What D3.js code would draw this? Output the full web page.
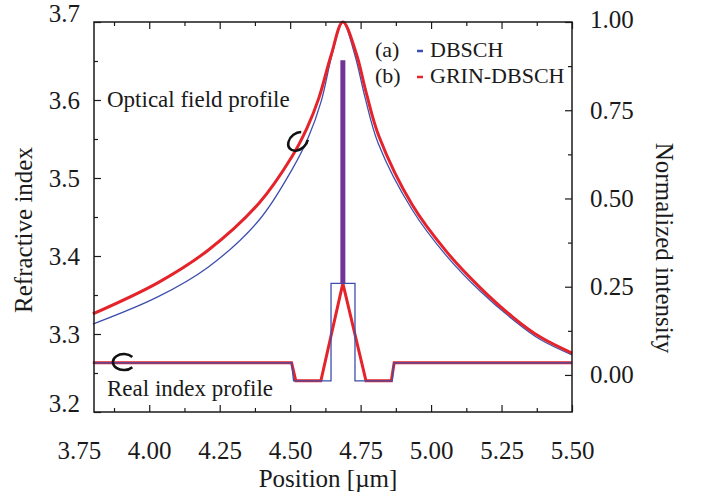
<!DOCTYPE html>
<html>
<head>
<meta charset="utf-8">
<script src="https://cdn.jsdelivr.net/npm/d3@7"></script>
<style>
body { margin: 0; background: #fff; }
text { font-family: "Liberation Serif", "Times New Roman", serif; fill: #1a1a1a; }
.tick line { stroke: #1a1a1a; stroke-width: 1.2; }
</style>
</head>
<body>
<svg id="chart" width="706" height="497"></svg>
<script>
// tick labels
var xTicks = [3.75, 4.00, 4.25, 4.50, 4.75, 5.00, 5.25, 5.50];
var xMinor = [3.875, 4.125, 4.375, 4.625, 4.875, 5.125, 5.375];
var yLeftTicks = [3.2, 3.3, 3.4, 3.5, 3.6, 3.7];
var yLeftMinor = [3.25, 3.35, 3.45, 3.55, 3.65];
var yRightTicks = [0.00, 0.25, 0.50, 0.75, 1.00];
var yRightMinor = [0.125, 0.375, 0.625, 0.875];

// real index profile (left axis)
var indexPosA = [3.80, 4.505, 4.512, 4.645, 4.645, 4.730, 4.730, 4.862, 4.868, 5.50];
var indexA    = [3.263, 3.263, 3.240, 3.240, 3.365, 3.365, 3.240, 3.240, 3.263, 3.263];
var indexPosB = [3.80, 4.505, 4.520, 4.609, 4.687, 4.769, 4.859, 4.869, 5.50];
var indexB    = [3.263, 3.263, 3.240, 3.240, 3.365, 3.240, 3.240, 3.263, 3.263];
// quantum well
var wellPos = [4.687, 4.687];
var wellIndex = [3.365, 3.651];

// optical field profile (right axis)
var fieldPosA = [3.80, 4.03, 4.21, 4.39, 4.506, 4.565, 4.61, 4.65, 4.687, 4.730, 4.766, 4.813, 4.933, 5.054, 5.172, 5.290, 5.386, 5.50];
var fieldA    = [0.144, 0.221, 0.306, 0.439, 0.581, 0.674, 0.775, 0.912, 1.0, 0.905, 0.785, 0.655, 0.468, 0.338, 0.239, 0.157, 0.101, 0.057];
var fieldPosB = [3.80, 4.03, 4.21, 4.39, 4.506, 4.56, 4.602, 4.645, 4.687, 4.734, 4.770, 4.816, 4.933, 5.054, 5.172, 5.290, 5.386, 5.50];
var fieldB    = [0.173, 0.261, 0.354, 0.487, 0.618, 0.700, 0.785, 0.905, 1.0, 0.912, 0.799, 0.674, 0.482, 0.350, 0.249, 0.164, 0.108, 0.062];

var blue = "#3d4fae", red = "#e4232b", purple = "#6f3495";

var svg = d3.select("#chart"),
    mLeft = 94, mRight = 572, mTop = 22, mBottom = 412;

var x = d3.scaleLinear().domain([3.804, 5.5]).range([mLeft, mRight]);
var yL = d3.scaleLinear().domain([3.2, 3.7]).range([mBottom, mTop]);
var yR = d3.scaleLinear().domain([-0.105, 1.0]).range([mBottom, mTop]);

function zip(a, b) {
    return a.map(function (d, i) { return [d, b[i]]; });
}

var lineL = d3.line()
    .x(function (d) { return x(d[0]); })
    .y(function (d) { return yL(d[1]); });
var lineR = d3.line()
    .curve(d3.curveCatmullRom.alpha(0.5))
    .x(function (d) { return x(d[0]); })
    .y(function (d) { return yR(d[1]); });

// axes, ticks point inward
function styleAxis(g) {
    g.select(".domain").remove();
    g.selectAll("text").style("font-size", "25px").attr("fill", "#1a1a1a");
}

svg.append("g")
    .attr("transform", "translate(0," + mBottom + ")")
    .call(d3.axisBottom(x).tickValues(xTicks).tickSize(-7).tickPadding(29)
        .tickFormat(d3.format(".2f")))
    .call(styleAxis)
    .call(function (g) {
        g.selectAll(".tick").filter(function (d) { return d < 3.8; }).select("line").remove();
    });
svg.append("g")
    .attr("transform", "translate(0," + mBottom + ")")
    .call(d3.axisBottom(x).tickValues(xMinor).tickSize(-4).tickFormat(""))
    .call(styleAxis);
svg.append("g")
    .attr("transform", "translate(0," + mTop + ")")
    .call(d3.axisTop(x).tickValues(xTicks.filter(function (d) { return d > 3.8; })).tickSize(-7).tickFormat(""))
    .call(styleAxis);
svg.append("g")
    .attr("transform", "translate(0," + mTop + ")")
    .call(d3.axisTop(x).tickValues(xMinor).tickSize(-4).tickFormat(""))
    .call(styleAxis);

svg.append("g")
    .attr("transform", "translate(" + mLeft + ",0)")
    .call(d3.axisLeft(yL).tickValues(yLeftTicks).tickSize(-7).tickPadding(14)
        .tickFormat(d3.format(".1f")))
    .call(styleAxis)
    .call(function (g) {
        // end labels sit a little higher than their ticks
        g.selectAll(".tick text").filter(function (d) { return d === 3.7 || d === 3.2; })
            .attr("y", -9);
    });
svg.append("g")
    .attr("transform", "translate(" + mLeft + ",0)")
    .call(d3.axisLeft(yL).tickValues(yLeftMinor).tickSize(-4).tickFormat(""))
    .call(styleAxis);

svg.append("g")
    .attr("transform", "translate(" + mRight + ",0)")
    .call(d3.axisRight(yR).tickValues(yRightTicks).tickSize(-7).tickPadding(18)
        .tickFormat(d3.format(".2f")))
    .call(styleAxis)
    .call(function (g) {
        g.selectAll(".tick text").filter(function (d) { return d === 1; }).attr("y", -3);
    });
svg.append("g")
    .attr("transform", "translate(" + mRight + ",0)")
    .call(d3.axisRight(yR).tickValues(yRightMinor).tickSize(-4).tickFormat(""))
    .call(styleAxis);

// curves
svg.append("path")
    .attr("d", lineR(zip(fieldPosA, fieldA)))
    .attr("fill", "none").attr("stroke", blue).attr("stroke-width", 1.3);
svg.append("path")
    .attr("d", lineR(zip(fieldPosB, fieldB)))
    .attr("fill", "none").attr("stroke", red).attr("stroke-width", 3);

svg.append("path")
    .attr("d", lineL(zip(indexPosB, indexB)))
    .attr("fill", "none").attr("stroke", red).attr("stroke-width", 3);
svg.append("path")
    .attr("d", lineL(zip(indexPosA, indexA)))
    .attr("fill", "none").attr("stroke", blue).attr("stroke-width", 1.3);

svg.append("path")
    .attr("d", lineL(zip(wellPos, wellIndex)))
    .attr("fill", "none").attr("stroke", purple).attr("stroke-width", 5);

// frame
svg.append("rect")
    .attr("x", mLeft).attr("y", mTop)
    .attr("width", mRight - mLeft).attr("height", mBottom - mTop)
    .attr("fill", "none").attr("stroke", "#1a1a1a").attr("stroke-width", 1.5);

// "C" markers pointing to the curves
var markerPos = [4.528, 3.910];
var markerVal = [3.547, 3.264];
var markerRot = [-40, 0];
markerPos.forEach(function (p, i) {
    var rx = 11, ry = 8, a0 = 40 * Math.PI / 180;
    var sx = rx * Math.cos(a0), sy = ry * Math.sin(a0);
    svg.append("path")
        .attr("transform", "translate(" + x(p) + "," + yL(markerVal[i]) + ") rotate(" + markerRot[i] + ")")
        .attr("d", "M" + sx + "," + (-sy) + " A" + rx + "," + ry + " 0 1 0 " + sx + "," + sy)
        .attr("fill", "none").attr("stroke", "#111").attr("stroke-width", 2.5);
});

// labels
svg.append("text").attr("x", 107).attr("y", 107).style("font-size", "23px").text("Optical field profile");
svg.append("text").attr("x", 107).attr("y", 396).style("font-size", "23px").text("Real index profile");

svg.append("text").attr("x", 375).attr("y", 57).style("font-size", "22px").text("(a)");
svg.append("text").attr("x", 375).attr("y", 83).style("font-size", "22px").text("(b)");
svg.append("line").attr("x1", 417).attr("x2", 423).attr("y1", 51).attr("y2", 51)
    .attr("stroke", blue).attr("stroke-width", 2.5);
svg.append("line").attr("x1", 417).attr("x2", 423).attr("y1", 77).attr("y2", 77)
    .attr("stroke", red).attr("stroke-width", 2.5);
svg.append("text").attr("x", 430).attr("y", 57).style("font-size", "22px").text("DBSCH");
svg.append("text").attr("x", 430).attr("y", 83).style("font-size", "22px").text("GRIN-DBSCH");

svg.append("text")
    .attr("transform", "translate(32,230) rotate(-90)")
    .attr("text-anchor", "middle").style("font-size", "25px").text("Refractive index");
svg.append("text")
    .attr("transform", "translate(656,248) rotate(90)")
    .attr("text-anchor", "middle").style("font-size", "25px").text("Normalized intensity");
svg.append("text")
    .attr("x", 328).attr("y", 487)
    .attr("text-anchor", "middle").style("font-size", "25px").text("Position [\u00b5m]");
</script>
</body>
</html>
